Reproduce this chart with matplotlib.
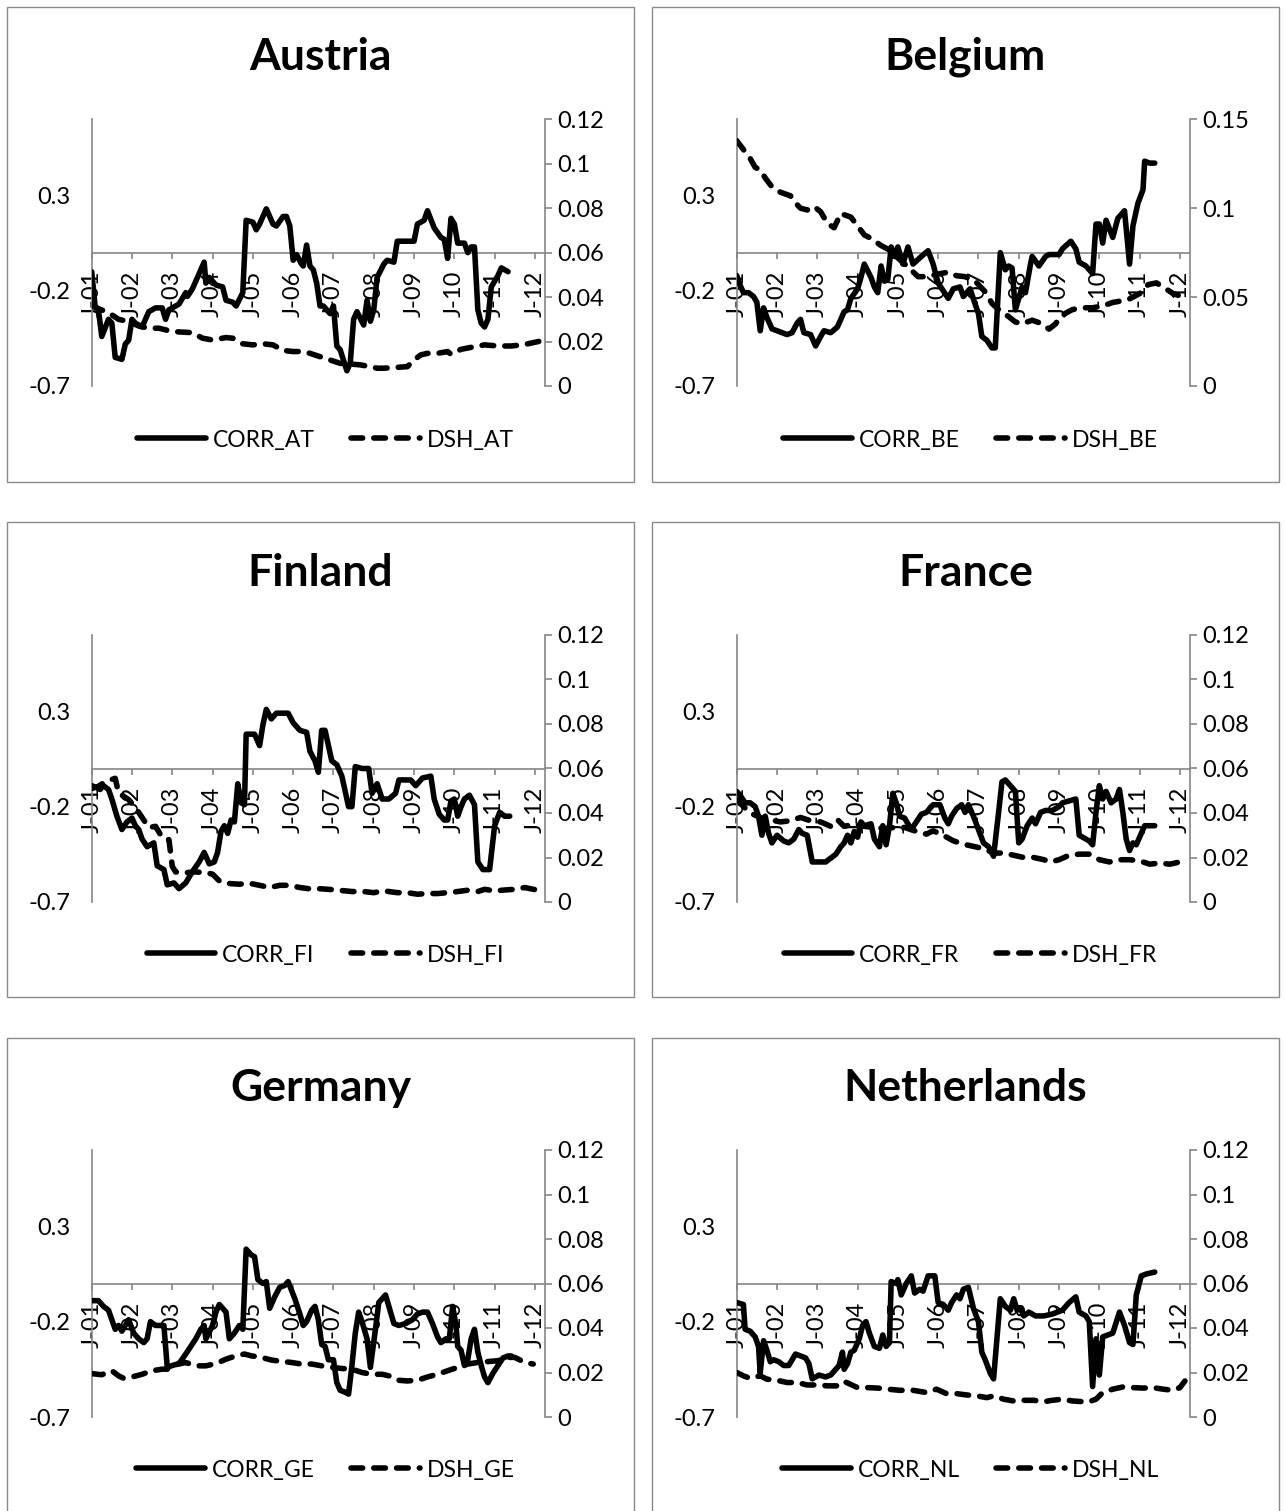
import matplotlib
matplotlib.use("Agg")
import matplotlib.pyplot as plt
from matplotlib.lines import Line2D
from matplotlib.patches import Rectangle

plt.rcParams['font.family'] = ['Lato', 'DejaVu Sans']

# months since Jan 2001 (key points) and values
year_ticks = [0, 12, 24, 36, 48, 60, 72, 84, 96, 108, 120, 132]
year_labels = ['J-01', 'J-02', 'J-03', 'J-04', 'J-05', 'J-06',
               'J-07', 'J-08', 'J-09', 'J-10', 'J-11', 'J-12']

at_corr_m = [0, 1, 2, 3, 5, 6, 7, 9, 10, 11, 12, 13, 15, 17, 19, 21, 22, 23, 26, 28,
             28.5, 30, 32, 33.5, 34, 35, 37, 39, 40, 42, 43, 45, 46, 48, 49, 50, 51, 52, 54, 55,
             57, 58, 59, 60, 61, 62.5, 63, 64, 65, 66, 67, 68, 69, 71, 72, 73, 74, 76, 77, 78,
             79, 81, 82, 83, 84, 85, 87, 88, 90, 91, 93, 96, 97, 99, 100, 102, 104, 105, 106, 107,
             108, 109, 111, 112, 113, 114, 115, 116, 117, 118, 119, 121, 122, 124]
at_corr = [-0.10, -0.28, -0.30, -0.44, -0.35, -0.37, -0.55, -0.56, -0.48, -0.46,
           -0.35, -0.37, -0.39, -0.31, -0.29, -0.29, -0.35, -0.30, -0.27, -0.21,
           -0.23, -0.19, -0.11, -0.05, -0.16, -0.13, -0.17, -0.18, -0.25, -0.26,
           -0.28, -0.21, 0.17, 0.16, 0.12, 0.15, 0.19, 0.23, 0.15, 0.14,
           0.19, 0.19, 0.14, -0.04, -0.01, -0.06, -0.07, 0.04, -0.07, -0.09,
           -0.16, -0.28, -0.28, -0.32, -0.28, -0.49, -0.51, -0.62, -0.58, -0.35,
           -0.31, -0.38, -0.25, -0.36, -0.30, -0.13, -0.06, -0.04, -0.05, 0.06,
           0.06, 0.06, 0.15, 0.17, 0.22, 0.13, 0.08, 0.07, -0.03, 0.18,
           0.15, 0.05, 0.05, 0.00, 0.03, 0.03, -0.30, -0.37, -0.39, -0.35,
           -0.18, -0.12, -0.08, -0.10]
at_dsh_m = [0, 5, 8, 11, 14, 17, 20, 24, 30, 33, 36, 40, 42, 45, 48, 51, 54, 57, 60, 63,
            65, 68, 71, 74, 77, 80, 83, 85, 87, 91, 94, 96, 98, 100, 103, 106, 107, 110, 114, 117,
            121, 125, 129, 133, 135]
at_dsh = [0.036, 0.033, 0.030, 0.029, 0.027, 0.026, 0.026, 0.0245, 0.024, 0.0215,
          0.0207, 0.0218, 0.0215, 0.019, 0.0185, 0.019, 0.0185, 0.016, 0.0155, 0.0155,
          0.0147, 0.0132, 0.0117, 0.0102, 0.0099, 0.0095, 0.0087, 0.008, 0.008, 0.0084,
          0.0087, 0.0117, 0.014, 0.0147, 0.0147, 0.0155, 0.0143, 0.0165, 0.0177, 0.0185,
          0.018, 0.018, 0.0187, 0.020, 0.0207]

be_corr_m = [0, 1, 2, 3.5, 5, 6, 7, 8, 9, 10.5, 12, 13.5, 15, 16.5, 18, 19, 20, 22, 23.5, 25,
             26, 28, 30, 31, 32, 33, 34, 36, 37, 38, 40, 41, 42, 43, 44, 45, 46, 47, 48, 49.5,
             51, 52.5, 55, 57, 58.5, 60, 61.5, 63, 64.5, 66.5, 67.5, 69.5, 71, 72, 73, 74.5, 76, 77, 78.5, 80,
             81, 82, 83, 85, 86, 87.5, 88, 90, 92, 93, 96, 97, 99.5, 101, 102, 104, 106, 107, 108, 109,
             110, 112, 113.5, 115.5, 117, 118, 119.5, 121, 121.5, 123, 124.5]
be_corr = [-0.12, -0.17, -0.21, -0.21, -0.23, -0.26, -0.41, -0.29, -0.34, -0.40,
           -0.41, -0.42, -0.43, -0.42, -0.37, -0.35, -0.42, -0.43, -0.49, -0.44,
           -0.41, -0.42, -0.39, -0.35, -0.31, -0.30, -0.24, -0.19, -0.13, -0.06,
           -0.13, -0.18, -0.21, -0.07, -0.15, -0.14, 0.03, -0.02, 0.03, -0.06,
           0.03, -0.06, -0.02, 0.01, -0.06, -0.16, -0.20, -0.24, -0.19, -0.18,
           -0.23, -0.19, -0.27, -0.32, -0.44, -0.46, -0.50, -0.50, 0.00, -0.09,
           -0.07, -0.08, -0.30, -0.18, -0.21, -0.06, -0.02, -0.07, -0.02, -0.01,
           -0.01, 0.02, 0.06, 0.02, -0.05, -0.07, -0.11, 0.15, 0.15, 0.05,
           0.17, 0.08, 0.18, 0.22, -0.06, 0.14, 0.26, 0.33, 0.48, 0.47,
           0.47]
be_dsh_m = [0, 2, 4, 5.5, 7, 8.5, 10.5, 13, 16, 17.5, 19, 21, 23, 25, 27, 29, 31, 34, 36, 38,
            40, 43, 45, 48, 51, 54, 57, 60, 63, 65.5, 68, 71, 74, 76, 78, 81, 83, 85, 88, 91,
            93, 95, 96, 98, 100, 103, 106, 109, 112, 115, 117, 120, 122.5, 125, 127.5, 130, 131.5]
be_dsh = [0.138, 0.133, 0.128, 0.123, 0.1215, 0.117, 0.112, 0.109, 0.107, 0.103,
          0.100, 0.099, 0.101, 0.098, 0.0915, 0.089, 0.097, 0.095, 0.090, 0.085,
          0.083, 0.079, 0.077, 0.072, 0.067, 0.0615, 0.0615, 0.063, 0.064, 0.062,
          0.0615, 0.059, 0.053, 0.0465, 0.043, 0.039, 0.036, 0.035, 0.037, 0.035,
          0.032, 0.035, 0.038, 0.041, 0.043, 0.044, 0.044, 0.045, 0.047, 0.048,
          0.049, 0.052, 0.057, 0.058, 0.055, 0.052, 0.051]

fi_corr_m = [0, 1.5, 2.5, 3.5, 5, 6, 7.5, 9, 10.5, 12, 13, 14, 15, 16.5, 17.5, 18.5, 19.5, 20.5, 21.5, 22.5,
             24.5, 26, 28, 30, 32, 33.5, 35, 36.5, 37.5, 38.5, 39.5, 40.5, 41.5, 42.5, 43.5, 44.5, 45.5, 46, 48.5, 50,
             51, 52, 53.5, 55, 57, 58.5, 60, 62, 64, 65, 66.5, 67.5, 68.5, 69.5, 71.5, 73, 74.5, 75.5, 76.5, 77.5,
             78.5, 80.5, 82.5, 83.5, 85, 86.5, 88.5, 90.5, 91.5, 93.5, 95, 96.5, 98.5, 101, 102, 103.5, 105, 106, 107, 108,
             109, 110, 111, 112.5, 114, 115, 116.5, 118.5, 120, 121.5, 123, 124.5]
fi_corr = [-0.09, -0.10, -0.11, -0.09, -0.11, -0.16, -0.25, -0.32, -0.28, -0.26,
           -0.30, -0.32, -0.37, -0.41, -0.40, -0.39, -0.51, -0.52, -0.53, -0.61,
           -0.60, -0.63, -0.60, -0.54, -0.49, -0.44, -0.50, -0.49, -0.44, -0.33,
           -0.30, -0.34, -0.27, -0.28, -0.08, -0.18, -0.19, 0.18, 0.18, 0.12,
           0.23, 0.31, 0.26, 0.29, 0.29, 0.29, 0.24, 0.20, 0.19, 0.09,
           0.04, -0.02, 0.20, 0.20, 0.04, 0.02, -0.04, -0.12, -0.20, -0.20,
           0.01, 0.00, 0.00, -0.13, -0.08, -0.16, -0.16, -0.13, -0.06, -0.06,
           -0.06, -0.09, -0.05, -0.04, -0.16, -0.24, -0.27, -0.27, -0.17, -0.16,
           -0.25, -0.20, -0.16, -0.14, -0.19, -0.49, -0.53, -0.53, -0.30, -0.23,
           -0.25, -0.25]
fi_dsh_m = [0, 2, 4, 7, 8, 11, 13, 17, 19, 21, 23, 24, 25, 28, 31, 34, 36, 38, 40, 44,
            47, 50, 53, 56, 59, 62, 64.5, 67.5, 70.5, 73.5, 77.5, 81, 84, 87, 91, 94, 97, 100, 103, 106,
            109, 112, 115, 117, 120, 123, 126, 129, 131.5, 135]
fi_dsh = [0.051, 0.052, 0.054, 0.0556, 0.049, 0.046, 0.0425, 0.0335, 0.034, 0.029,
          0.028, 0.016, 0.0135, 0.0132, 0.0135, 0.0132, 0.0125, 0.0095, 0.0084, 0.008,
          0.0084, 0.0075, 0.0065, 0.0075, 0.0075, 0.0065, 0.006, 0.006, 0.0057, 0.0053,
          0.0047, 0.0047, 0.0042, 0.005, 0.0042, 0.0042, 0.0035, 0.0038, 0.0038, 0.0042,
          0.0047, 0.0053, 0.0047, 0.0057, 0.005, 0.0054, 0.0057, 0.0065, 0.0057, 0.005]

fr_corr_m = [0, 1, 2.5, 4, 5.5, 6.5, 7.5, 8.5, 9.5, 10.5, 12, 14, 15.5, 17, 18.5, 19.5, 21, 22.5, 24.5, 26.5,
             28, 29.5, 31, 32, 33, 34, 35, 36, 37, 38, 40, 41, 42.5, 43.5, 44.5, 45.5, 46.5, 47.5, 48.5, 50,
             52, 53.5, 55, 56.5, 58.5, 60.5, 62, 63, 64, 65.5, 67, 68, 69, 70.5, 72, 73.5, 75, 76.5, 78, 79,
             80, 82, 83, 84, 85, 86.5, 88, 89, 90.5, 92, 94, 96, 97, 99, 101, 102, 104, 105, 106, 107,
             108, 109, 110, 111.5, 113, 114, 115, 116, 117, 118, 119, 120.5, 121.5, 123, 124.5]
fr_corr = [-0.12, -0.14, -0.18, -0.18, -0.20, -0.25, -0.35, -0.25, -0.34, -0.39,
           -0.35, -0.38, -0.39, -0.37, -0.32, -0.34, -0.35, -0.49, -0.49, -0.49,
           -0.47, -0.45, -0.41, -0.39, -0.35, -0.39, -0.33, -0.36, -0.28, -0.30,
           -0.29, -0.37, -0.41, -0.30, -0.40, -0.30, -0.13, -0.18, -0.25, -0.26,
           -0.32, -0.28, -0.24, -0.23, -0.19, -0.19, -0.26, -0.29, -0.25, -0.21,
           -0.19, -0.23, -0.19, -0.25, -0.32, -0.39, -0.41, -0.46, -0.23, -0.07,
           -0.06, -0.10, -0.12, -0.39, -0.37, -0.30, -0.26, -0.29, -0.23, -0.22,
           -0.22, -0.20, -0.18, -0.17, -0.16, -0.35, -0.37, -0.38, -0.40, -0.23,
           -0.09, -0.16, -0.12, -0.18, -0.16, -0.11, -0.23, -0.37, -0.43, -0.39,
           -0.40, -0.34, -0.30, -0.30, -0.30]
fr_dsh_m = [0, 2, 4, 7, 10, 13, 16, 19, 22, 25, 28, 30, 32, 35, 38, 41, 44, 47, 50, 53,
            56.5, 58.5, 61.5, 64.5, 67.5, 70.5, 73.5, 76.5, 79.5, 82.5, 85.5, 88.5, 91.5, 93.5, 96, 99, 102, 105, 108, 111,
            114, 117, 120, 123, 126, 129, 132]
fr_dsh = [0.046, 0.043, 0.040, 0.038, 0.037, 0.036, 0.0365, 0.038, 0.0365, 0.036,
          0.034, 0.037, 0.034, 0.035, 0.034, 0.0335, 0.033, 0.0335, 0.0335, 0.032,
          0.0305, 0.032, 0.030, 0.0275, 0.026, 0.025, 0.024, 0.022, 0.022, 0.021,
          0.020, 0.020, 0.019, 0.018, 0.019, 0.021, 0.0215, 0.0215, 0.019, 0.018,
          0.019, 0.019, 0.0185, 0.017, 0.0175, 0.017, 0.018]

ge_corr_m = [0, 2, 3.5, 5, 6, 7, 8, 9, 11, 12.5, 14, 15.5, 16.5, 17.5, 19, 20.5, 21.5, 22.5, 24, 26,
             28, 29.5, 31, 32.5, 33.5, 34, 36, 37, 38, 40, 41, 42.5, 44, 45, 46, 47.5, 48.5, 49.5, 51, 52,
             53, 54.5, 56, 57.5, 58.5, 60.5, 62, 63, 64, 65.5, 66.5, 67.5, 68.5, 69.5, 70.5, 72, 73, 74, 75.5, 76.5,
             77.5, 78.5, 79.5, 80.5, 82, 83, 84.5, 85.5, 87.5, 88.5, 90, 91.5, 93.5, 95.5, 97, 98.5, 100, 101.5, 103, 104,
             105.5, 106.5, 107.5, 108.5, 109, 110, 111, 112, 113, 114, 115, 116, 117, 118, 119.5, 121, 122.5, 124, 125]
ge_corr = [-0.09, -0.09, -0.12, -0.14, -0.19, -0.24, -0.22, -0.25, -0.19, -0.26,
           -0.29, -0.31, -0.29, -0.20, -0.22, -0.22, -0.22, -0.44, -0.43, -0.42,
           -0.37, -0.33, -0.29, -0.24, -0.22, -0.29, -0.22, -0.15, -0.11, -0.15,
           -0.29, -0.26, -0.22, -0.24, 0.18, 0.15, 0.14, 0.02, 0.00, 0.01,
           -0.13, -0.07, -0.02, -0.01, 0.01, -0.08, -0.16, -0.22, -0.20, -0.14,
           -0.12, -0.19, -0.32, -0.33, -0.40, -0.40, -0.52, -0.56, -0.57, -0.58,
           -0.43, -0.26, -0.15, -0.20, -0.29, -0.44, -0.24, -0.10, -0.06, -0.12,
           -0.21, -0.22, -0.21, -0.19, -0.16, -0.15, -0.15, -0.21, -0.28, -0.31,
           -0.29, -0.29, -0.12, -0.22, -0.33, -0.35, -0.43, -0.40, -0.29, -0.24,
           -0.36, -0.43, -0.49, -0.52, -0.47, -0.43, -0.39, -0.38, -0.38]
ge_dsh_m = [0, 3, 6, 8, 9.5, 12, 15, 18, 21, 23, 25, 28, 31, 34, 37, 40, 43, 45.5, 47.5, 50.5,
            53.5, 56.5, 59.5, 62.5, 65.5, 68.5, 71.5, 74.5, 77.5, 80.5, 83.5, 86.5, 88.5, 91.5, 94, 97, 100, 103, 106, 109,
            112, 115, 121, 123, 126, 129, 131.5]
ge_dsh = [0.0195, 0.019, 0.0208, 0.0185, 0.0174, 0.018, 0.0192, 0.0208, 0.0215, 0.0215,
          0.0235, 0.0245, 0.023, 0.023, 0.024, 0.026, 0.0275, 0.0283, 0.0275, 0.0268,
          0.0256, 0.025, 0.0245, 0.0238, 0.0238, 0.023, 0.0223, 0.0218, 0.0215, 0.020,
          0.0192, 0.0192, 0.0185, 0.0165, 0.0162, 0.0165, 0.018, 0.0192, 0.0208, 0.0223,
          0.0238, 0.0245, 0.0253, 0.0268, 0.0268, 0.0245, 0.0238]

nl_corr_m = [0, 2, 2.5, 4, 5.5, 6.5, 7, 8, 9, 10, 11, 12.5, 14, 15.5, 16.5, 17.5, 19, 20.5, 21.5, 22.5,
             24.5, 26.5, 28, 29.5, 30.5, 31.5, 32, 33, 34, 35, 36.5, 37.5, 38.5, 39.5, 41, 42.5, 43.5, 44.5, 45.5, 46,
             47.5, 48, 49, 50.5, 52, 53, 54.5, 55.5, 57, 59, 60, 61.5, 63, 64, 65.5, 66.5, 67.5, 69, 70.5, 72,
             73, 74, 75.5, 76.5, 77.5, 78.5, 80, 81.5, 82.5, 83.5, 84.5, 85.5, 87, 89, 91.5, 94, 95.5, 97, 99, 101,
             102, 104, 105, 106, 107, 108, 109, 110.5, 112, 114, 115.5, 117, 118, 119, 120.5, 122, 124.5]
nl_corr = [-0.10, -0.11, -0.24, -0.25, -0.28, -0.33, -0.47, -0.30, -0.35, -0.41,
           -0.40, -0.41, -0.43, -0.43, -0.40, -0.37, -0.38, -0.39, -0.42, -0.50,
           -0.48, -0.49, -0.48, -0.45, -0.43, -0.36, -0.45, -0.42, -0.36, -0.35,
           -0.29, -0.22, -0.20, -0.26, -0.33, -0.34, -0.27, -0.33, -0.31, 0.01,
           0.00, 0.02, -0.06, 0.00, 0.04, -0.05, -0.03, -0.04, 0.04, 0.04,
           -0.10, -0.11, -0.14, -0.10, -0.06, -0.08, -0.03, -0.02, -0.13, -0.20,
           -0.36, -0.40, -0.47, -0.50, -0.29, -0.08, -0.12, -0.14, -0.08, -0.14,
           -0.13, -0.17, -0.15, -0.17, -0.17, -0.16, -0.15, -0.14, -0.10, -0.07,
           -0.15, -0.17, -0.20, -0.54, -0.29, -0.48, -0.28, -0.27, -0.26, -0.15,
           -0.22, -0.31, -0.32, -0.06, 0.04, 0.05, 0.06]
nl_dsh_m = [0, 2, 4, 7, 9, 12, 15, 18, 21, 24, 27, 30, 32, 36, 39, 42, 45, 48.5, 52.5, 56.5,
            59.5, 62.5, 65.5, 68.5, 71.5, 74.5, 76.5, 79.5, 82.5, 85.5, 88.5, 91.5, 94, 97, 100, 103, 105, 107, 109, 112,
            115, 118, 121, 124, 127, 130, 132, 133.5]
nl_dsh = [0.020, 0.0185, 0.0174, 0.0185, 0.017, 0.0165, 0.0155, 0.0155, 0.0144, 0.0144,
          0.014, 0.014, 0.016, 0.0132, 0.0132, 0.013, 0.0125, 0.012, 0.012, 0.011,
          0.0125, 0.0105, 0.0105, 0.0099, 0.0095, 0.0087, 0.0095, 0.008, 0.0072, 0.0075,
          0.0075, 0.0069, 0.0075, 0.008, 0.0072, 0.0069, 0.0069, 0.008, 0.011, 0.0125,
          0.0135, 0.0132, 0.013, 0.0132, 0.0125, 0.012, 0.0132, 0.0162]

W, H = 1285, 1511
GRAY = '#868686'
LW = 4.0
DASH = (2.1, 2.0)

fig = plt.figure(figsize=(W / 100, H / 100), dpi=100)

# pixel layout of the panels (box edges, plot edges, rows)
col_box = [(7, 634), (652, 1279)]
col_axes = [(91.7, 545), (736.7, 1190)]
row_box = [7, 522, 1038]
row_axes = [(119.3, 386), (635, 902), (1150, 1417)]
row_title = [57, 573, 1088]
row_legend = [440, 955, 1470]


def px(x, y):
    return x / W, 1 - y / H


def panel(col, row, title, code, cm, cv, dm, dv, dmax, dticks, dlabels):
    bx0, bx1 = col_box[col]
    by0 = row_box[row]
    fig.add_artist(Rectangle(px(bx0, by0 + 475), (bx1 - bx0) / W, 475 / H,
                             transform=fig.transFigure, fill=False,
                             edgecolor='#8a8a8a', lw=1))
    ax0, ax1 = col_axes[col]
    top, bot = row_axes[row]
    l, b = px(ax0, bot)
    ax = fig.add_axes([l, b, (ax1 - ax0) / W, (bot - top) / H])
    ax.set_xlim(0, 135)
    ax.set_ylim(-0.7, 0.7)
    ax.patch.set_alpha(0)
    for s in ['top', 'right']:
        ax.spines[s].set_visible(False)
    ax.spines['left'].set_color(GRAY)
    ax.spines['left'].set_linewidth(1.2)
    ax.spines['bottom'].set_position(('data', 0))
    ax.spines['bottom'].set_color(GRAY)
    ax.spines['bottom'].set_linewidth(1.2)
    ax.set_yticks([-0.7, -0.2, 0.3])
    ax.set_yticklabels(['-0.7', '-0.2', '0.3'])
    ax.tick_params(axis='y', length=0, pad=15, labelsize=17)
    ax.set_xticks(year_ticks)
    ax.set_xticklabels(year_labels, rotation=90)
    ax.tick_params(axis='x', direction='out', length=4, width=1.2, color=GRAY,
                   pad=9, labelsize=17)

    ax2 = ax.twinx()
    ax2.set_ylim(0, dmax)
    for s in ['top', 'left', 'bottom']:
        ax2.spines[s].set_visible(False)
    ax2.spines['right'].set_color(GRAY)
    ax2.spines['right'].set_linewidth(1.2)
    ax2.set_yticks(dticks)
    ax2.set_yticklabels(dlabels)
    ax2.tick_params(axis='y', direction='out', length=5, width=1.2, color=GRAY,
                    pad=4, labelsize=17)

    ax.plot(cm, cv, color='black', lw=LW, solid_joinstyle='round',
            solid_capstyle='round', zorder=3)
    ax2.plot(dm, dv, color='black', lw=LW, dashes=DASH,
             dash_capstyle='round', dash_joinstyle='round', zorder=3)

    cx = (bx0 + bx1) / 2
    fig.text(cx / W, 1 - row_title[row] / H, title, ha='center', va='center',
             fontsize=32, fontweight='bold')
    handles = [Line2D([], [], color='black', lw=LW, solid_capstyle='round'),
               Line2D([], [], color='black', lw=LW, dashes=DASH,
                      dash_capstyle='round')]
    fig.legend(handles, ['CORR_' + code, 'DSH_' + code], loc='center',
               bbox_to_anchor=px(cx + 5, row_legend[row]), ncol=2,
               frameon=False, fontsize=16.5, handlelength=3.0,
               handletextpad=0.3, columnspacing=1.6)


std_ticks = [0, 0.02, 0.04, 0.06, 0.08, 0.1, 0.12]
std_labels = ['0', '0.02', '0.04', '0.06', '0.08', '0.1', '0.12']

panel(0, 0, 'Austria', 'AT', at_corr_m, at_corr, at_dsh_m, at_dsh, 0.12, std_ticks, std_labels)
panel(1, 0, 'Belgium', 'BE', be_corr_m, be_corr, be_dsh_m, be_dsh, 0.15,
      [0, 0.05, 0.1, 0.15], ['0', '0.05', '0.1', '0.15'])
panel(0, 1, 'Finland', 'FI', fi_corr_m, fi_corr, fi_dsh_m, fi_dsh, 0.12, std_ticks, std_labels)
panel(1, 1, 'France', 'FR', fr_corr_m, fr_corr, fr_dsh_m, fr_dsh, 0.12, std_ticks, std_labels)
panel(0, 2, 'Germany', 'GE', ge_corr_m, ge_corr, ge_dsh_m, ge_dsh, 0.12, std_ticks, std_labels)
panel(1, 2, 'Netherlands', 'NL', nl_corr_m, nl_corr, nl_dsh_m, nl_dsh, 0.12, std_ticks, std_labels)

fig.savefig('out.png', dpi=100)
